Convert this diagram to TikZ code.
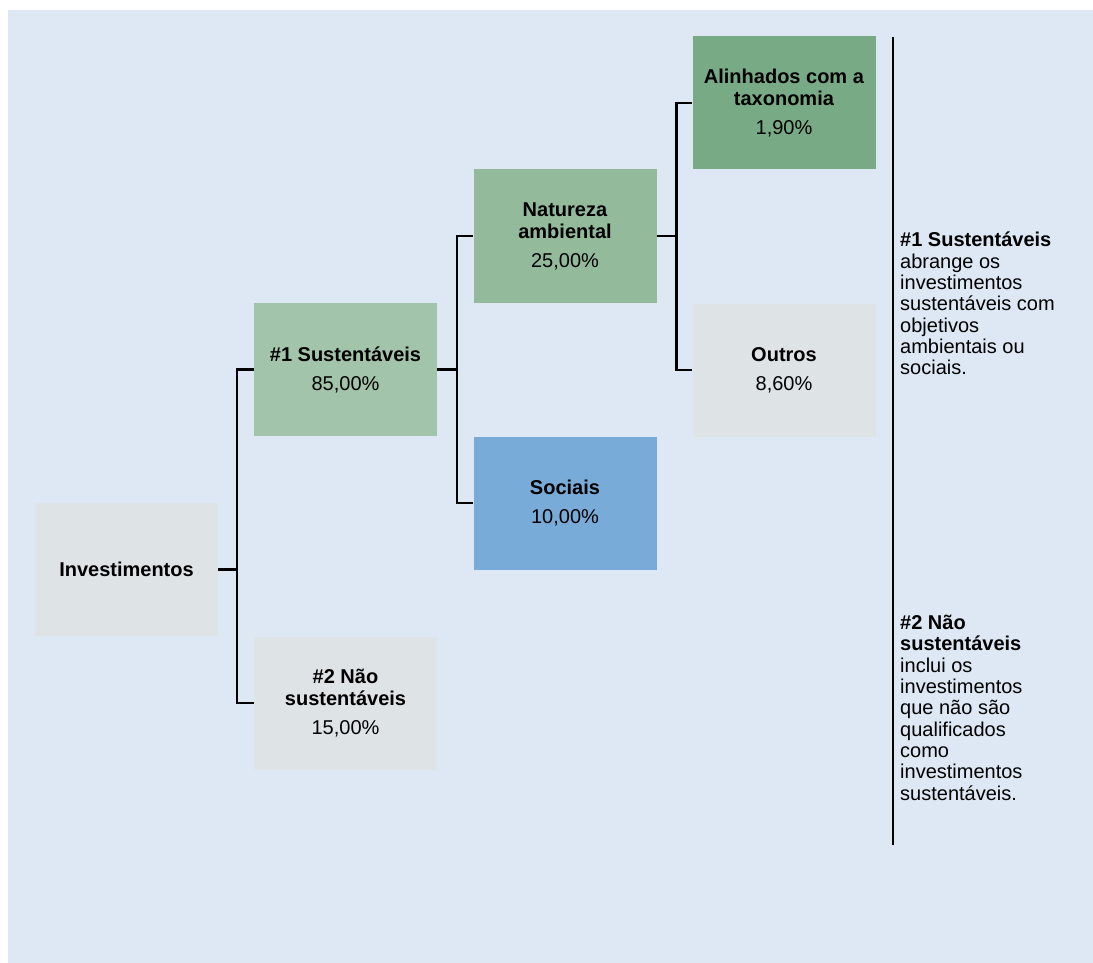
\documentclass[tikz,border=0pt]{standalone}
\usepackage{fontspec}
\setmainfont{Liberation Sans}
\usetikzlibrary{positioning}
\definecolor{bgblue}{HTML}{DDE8F4}
\definecolor{boxgray}{HTML}{DEE4E6}
\definecolor{sustgreen}{HTML}{A2C4AA}
\definecolor{envgreen}{HTML}{93BB9B}
\definecolor{taxgreen}{HTML}{78AB85}
\definecolor{socblue}{HTML}{79ABD9}

\begin{document}
\begin{tikzpicture}[x=1pt, y=-1pt, node distance=133.5pt and 219.5pt, on grid,
    box/.style={rectangle, minimum width=183pt, minimum height=133pt, inner sep=0pt, align=center, font=\fontsize{20}{22}\selectfont},
    note/.style={anchor=north west, inner sep=0pt, align=left, font=\fontsize{20}{21.3}\selectfont},
    link/.style={line width=2.5pt}]
    \useasboundingbox (0,0) rectangle (1093,963);
    \fill[bgblue] (8,10) rectangle (1093,963);

    \node (inv) [box, fill=boxgray] at (126.5,569.5) {\textbf{Investimentos}};
    \node (sust) [box, fill=sustgreen, above right=200pt and 219pt of inv] {\textbf{\#1 Sustentáveis}\\[7pt]85,00\%};
    \node (naosust) [box, fill=boxgray, below right=133.5pt and 219pt of inv] {\textbf{\#2 Não}\\\textbf{sustentáveis}\\[7pt]15,00\%};
    \node (amb) [box, fill=envgreen, above right=of sust] {\textbf{Natureza}\\\textbf{ambiental}\\[7pt]25,00\%};
    \node (soc) [box, fill=socblue, below right=of sust] {\textbf{Sociais}\\[7pt]10,00\%};
    \node (tax) [box, fill=taxgreen, above right=133pt and 219pt of amb] {\textbf{Alinhados com a}\\\textbf{taxonomia}\\[7pt]1,90\%};
    \node (outros) [box, fill=boxgray, below right=134pt and 219pt of amb] {\textbf{Outros}\\[7pt]8,60\%};

    \draw [link] (inv.east) -- ++(19,0) |- (sust.west);
    \draw [link] (inv.east) -- ++(19,0) |- (naosust.west);
    \draw [link] (sust.east) -- ++(20,0) |- (amb.west);
    \draw [link] (sust.east) -- ++(20,0) |- (soc.west);
    \draw [link] (amb.east) -- ++(20,0) |- (tax.west);
    \draw [link] (amb.east) -- ++(20,0) |- (outros.west);

    \draw [line width=1.2pt] (893,37) -- (893,845);
    \node (note1) [note] at (900,232) {\textbf{\#1 Sustentáveis}\\abrange os\\investimentos\\sustentáveis com\\objetivos\\ambientais ou\\sociais.};
    \node (note2) [note] at (900,615) {\textbf{\#2 Não}\\\textbf{sustentáveis}\\inclui os\\investimentos\\que não são\\qualificados\\como\\investimentos\\sustentáveis.};
\end{tikzpicture}
\end{document}
